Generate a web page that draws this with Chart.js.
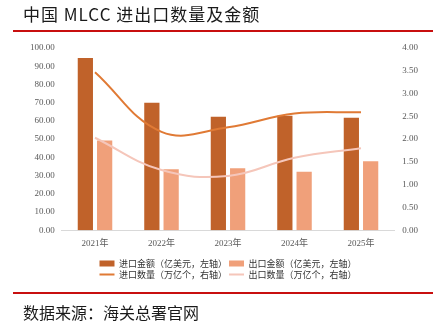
<!DOCTYPE html>
<html>
<head>
<meta charset="utf-8">
<script src="https://cdn.jsdelivr.net/npm/chart.js@4/dist/chart.umd.min.js"></script>
<style>
  body { margin: 0; background: #fff; }
  #wrap { position: relative; width: 436px; height: 325px; overflow: hidden; }
  #title { position: absolute; left: 23px; top: 1px; font: 17px "Noto Sans CJK SC", sans-serif; color: #1a1a1a; letter-spacing: 1px; }
  .rule { position: absolute; left: 13px; width: 420px; height: 2px; background: #c80f0f; }
  #source { position: absolute; left: 23px; top: 300px; font: 16px "Noto Sans CJK SC", sans-serif; color: #1a1a1a; }
  #chartBox { position: absolute; left: 0; top: 0; width: 436px; height: 325px; }
</style>
</head>
<body>
<div id="wrap">
  <div id="chartBox"><canvas id="myChart"></canvas></div>
  <div id="title">中国 MLCC 进出口数量及金额</div>
  <div class="rule" style="top:30px"></div>
  <div class="rule" style="top:292px"></div>
  <div id="source">数据来源：海关总署官网</div>
</div>
<script>
const years = ["2021年", "2022年", "2023年", "2024年", "2025年"];
const importValue = [94.5, 69.9, 62.2, 62.8, 61.7];
const exportValue = [49.3, 33.4, 34.0, 32.1, 37.9];
const importQty = [3.47, 2.16, 2.26, 2.56, 2.59];
const exportQty = [2.03, 1.32, 1.19, 1.59, 1.80];

const tickFont = { family: "'Liberation Serif', 'Noto Sans CJK SC'", size: 9 };
const tickColor = "#595959";

const data = {
    labels: years,
    datasets: [
        {
            type: 'bar',
            label: "进口金额（亿美元，左轴）",
            data: importValue,
            backgroundColor: "#c0622a",
            yAxisID: 'y',
            order: 2,
            pointStyle: 'rect',
            categoryPercentage: 0.58,
            barPercentage: 0.79
        },
        {
            type: 'bar',
            label: "出口金额（亿美元，左轴）",
            data: exportValue,
            backgroundColor: "#f0a07a",
            yAxisID: 'y',
            order: 2,
            pointStyle: 'rect',
            categoryPercentage: 0.58,
            barPercentage: 0.79
        },
        {
            type: 'line',
            label: "进口数量（万亿个，右轴）",
            data: importQty,
            borderColor: "#e07a35",
            backgroundColor: "#e07a35",
            borderWidth: 2,
            tension: 0.4,
            pointRadius: 0,
            yAxisID: 'y1',
            order: 1,
            pointStyle: 'line'
        },
        {
            type: 'line',
            label: "出口数量（万亿个，右轴）",
            data: exportQty,
            borderColor: "#f5c6ba",
            backgroundColor: "#f5c6ba",
            borderWidth: 2,
            tension: 0.4,
            pointRadius: 0,
            yAxisID: 'y1',
            order: 1,
            pointStyle: 'line'
        }
    ]
};

const config = {
    data: data,
    options: {
        responsive: true,
        maintainAspectRatio: false,
        animation: false,
        layout: {
            padding: { top: 48, bottom: 36, left: 23, right: 10 }
        },
        plugins: {
            tooltip: { enabled: false },
            legend: {
                position: 'bottom',
                fullSize: false,
                labels: {
                    usePointStyle: true,
                    pointStyleWidth: 15,
                    boxHeight: 6,
                    padding: 2,
                    color: "#333",
                    font: { family: "'Noto Sans CJK SC'", size: 9 },
                    sort: (a, b) => a.datasetIndex - b.datasetIndex
                }
            }
        },
        scales: {
            x: {
                grid: { display: false, drawTicks: false },
                border: { display: true, color: "#d9d9d9" },
                ticks: { font: tickFont, color: tickColor, padding: 8 }
            },
            y: {
                position: 'left',
                min: 0,
                max: 100,
                grid: { display: false, drawTicks: false },
                border: { display: false },
                ticks: {
                    stepSize: 10,
                    font: tickFont,
                    color: tickColor,
                    padding: 7,
                    callback: v => v.toFixed(2)
                }
            },
            y1: {
                position: 'right',
                min: 0,
                max: 4,
                grid: { display: false, drawTicks: false },
                border: { display: false },
                ticks: {
                    stepSize: 0.5,
                    font: tickFont,
                    color: tickColor,
                    padding: 8,
                    callback: v => v.toFixed(2)
                }
            }
        }
    }
};

window.mychart = new Chart(document.getElementById('myChart'), config);
</script>
</body>
</html>
